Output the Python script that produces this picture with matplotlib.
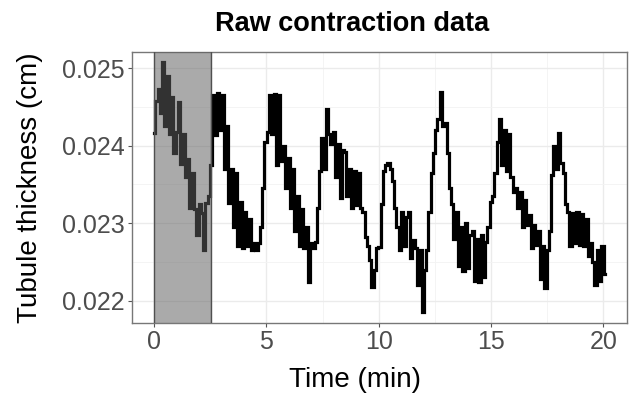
import numpy as np
import matplotlib
matplotlib.use("Agg")
import matplotlib.pyplot as plt
from matplotlib.patches import Rectangle
from matplotlib.ticker import MultipleLocator, FormatStrFormatter

plt.rcParams['font.family'] = ['Liberation Sans', 'DejaVu Sans']

# --- data: tubule thickness trace (micrometres) ---
TIME_STEP_MIN = 0.1013
thickness_um = [
    241.6, 245.8, 247.3, 244.2, 250.8, 242.5, 249.0, 241.5, 246.3, 239.0,
    241.8, 245.6, 237.6, 241.5, 236.0, 238.3, 232.0, 236.5, 231.8, 228.5,
    232.5, 231.3, 226.5, 232.6, 233.5, 237.5, 246.5, 241.4, 246.8, 242.0,
    246.6, 237.0, 242.5, 232.6, 237.0, 229.5, 236.5, 227.0, 232.8, 226.8,
    231.5, 227.0, 230.5, 226.6, 227.5, 226.5, 227.4, 229.5, 234.5, 240.5,
    241.8, 246.6, 241.5, 246.7, 237.5, 246.6, 238.0, 240.0, 234.5, 238.4,
    232.0, 237.0, 229.0, 233.5, 227.0, 231.8, 226.8, 229.5, 222.4, 227.5,
    226.8, 227.6, 232.0, 236.8, 241.0, 237.0, 244.8, 241.5, 240.2, 241.8,
    236.0, 240.2, 233.2, 239.5, 239.2, 233.5, 237.0, 232.0, 236.7, 232.3,
    236.5, 232.0, 231.5, 228.2, 227.0, 225.2, 221.8, 224.0, 226.8, 226.9,
    232.5, 236.8, 237.5, 237.8, 237.0, 235.5, 231.9, 229.5, 226.5, 231.5,
    227.0, 230.8, 231.5, 225.5, 227.8, 226.8, 222.0, 226.5, 218.6, 224.0,
    226.5, 231.5, 236.5, 239.0, 242.0, 243.5, 247.0, 242.5, 243.0, 239.0,
    234.5, 232.5, 228.0, 231.5, 224.5, 229.5, 223.8, 230.0, 224.2, 228.5,
    229.0, 222.6, 228.0, 222.4, 228.5, 223.0, 227.6, 229.5, 232.8, 233.5,
    236.5, 240.5, 243.5, 237.5, 242.0, 236.8, 241.5, 236.0, 234.0, 234.5,
    232.0, 234.0, 229.5, 233.0, 229.8, 231.0, 226.8, 229.8, 227.2, 229.0,
    222.8, 227.0, 221.6, 226.5, 229.0, 236.2, 240.0, 237.0, 241.6, 237.8,
    236.5, 232.5, 231.5, 227.0, 231.3, 227.5, 231.5, 227.2, 231.2, 227.0,
    230.5, 225.8, 227.5, 225.0, 222.0, 226.5, 222.5, 227.0, 223.5,
]
baseline_window = (0.0, 2.55)   # shaded baseline period (min)

thickness_cm = np.array(thickness_um) / 10000.0
time_min = np.arange(len(thickness_cm)) * TIME_STEP_MIN

fig = plt.figure(figsize=(6.3, 3.97), dpi=100)
ax = fig.add_axes([0.209, 0.1856, 0.7862, 0.6842])

ax.plot(time_min, thickness_cm, color='black', linewidth=2.3,
        drawstyle='steps-mid', solid_joinstyle='miter', zorder=3)
ax.add_patch(Rectangle((baseline_window[0], 0.0205),
                       baseline_window[1] - baseline_window[0], 0.006,
                       facecolor=(0.376, 0.376, 0.376, 0.53),
                       edgecolor='#505050', linewidth=1.0, zorder=4))

ax.set_xlim(-1.0, 21.05)
ax.set_ylim(0.021708, 0.025214)
ax.xaxis.set_major_locator(MultipleLocator(5))
ax.xaxis.set_minor_locator(MultipleLocator(2.5))
ax.yaxis.set_major_locator(MultipleLocator(0.001))
ax.yaxis.set_minor_locator(MultipleLocator(0.0005))
ax.yaxis.set_major_formatter(FormatStrFormatter('%.3f'))

ax.grid(which='major', color='#EBEBEB', linewidth=1.0, zorder=0)
ax.grid(which='minor', color='#F3F3F3', linewidth=0.6, zorder=0)
ax.set_axisbelow(True)
for s in ax.spines.values():
    s.set_color('#777777')
    s.set_linewidth(1.0)

ax.tick_params(which='major', length=3, width=0.8, color='#555555',
               labelsize=18, labelcolor='#4D4D4D', pad=2)
ax.tick_params(which='minor', length=0)

ax.set_xlabel('Time (min)', fontsize=20, color='black', va='center')
ax.xaxis.set_label_coords(0.451, -0.209)
ax.set_ylabel('Tubule thickness (cm)', fontsize=20, color='black', va='center')
ax.yaxis.set_label_coords(-0.205, 0.5)
ax.set_title('Raw contraction data', fontsize=19.5, fontweight='bold',
             x=0.444, pad=15)

fig.savefig('out.png', dpi=100)
